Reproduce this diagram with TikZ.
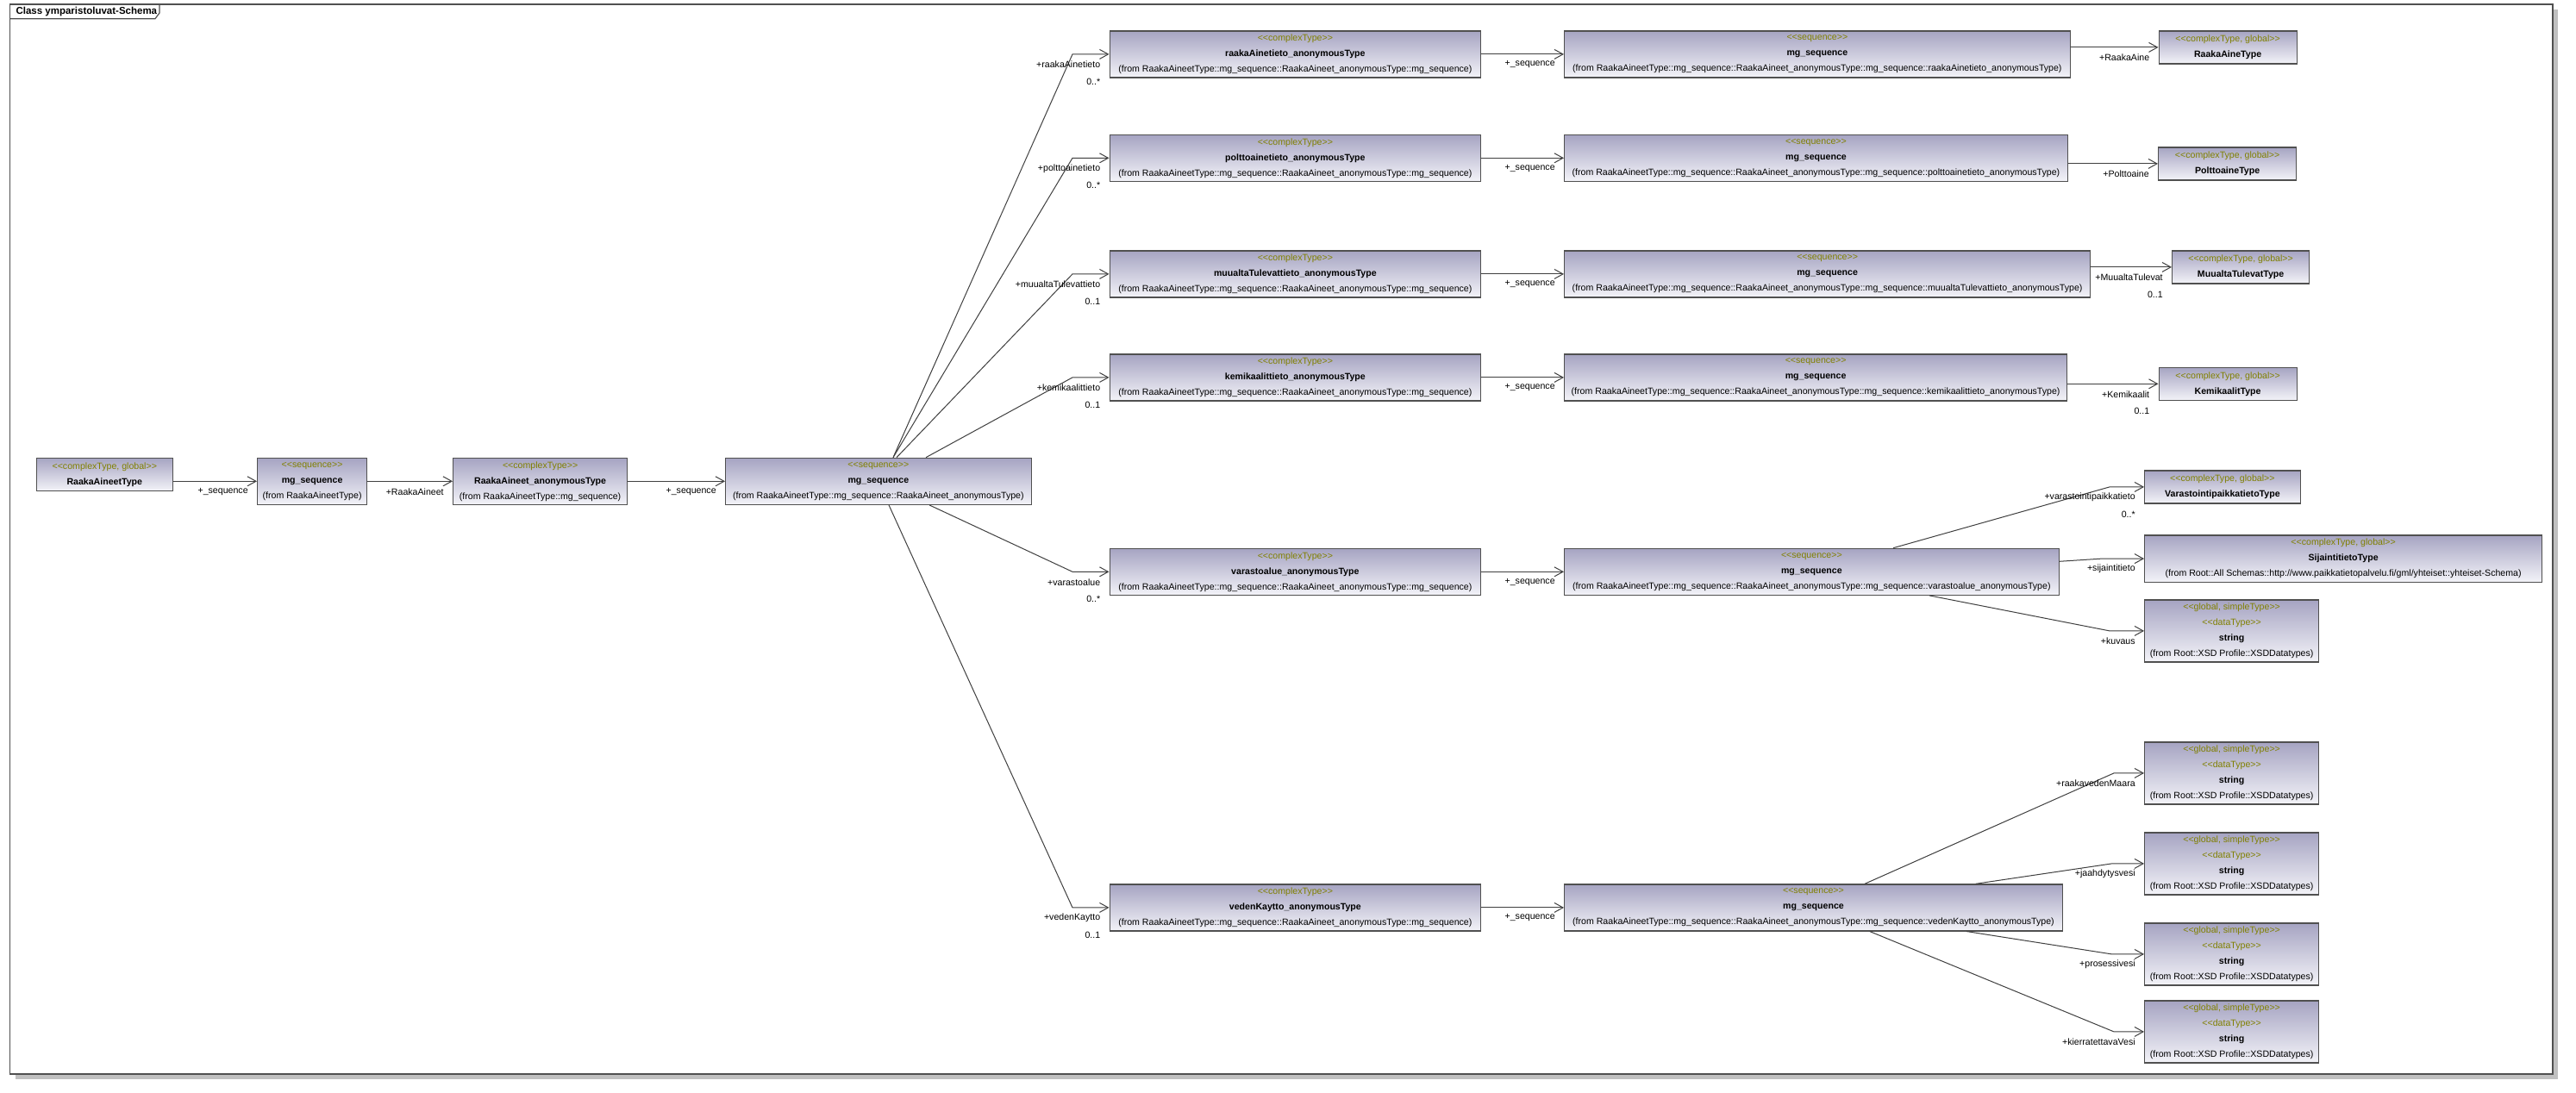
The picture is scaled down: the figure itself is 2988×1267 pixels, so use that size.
\documentclass[tikz,border=0pt]{standalone}
\usepackage{fontspec}
\setmainfont{Liberation Sans}
\usetikzlibrary{arrows.meta}

\definecolor{boxtop}{RGB}{166,164,194}
\definecolor{boxbot}{RGB}{243,243,248}
\definecolor{boxline}{RGB}{80,80,80}
\definecolor{stereo}{RGB}{128,128,0}
\definecolor{wire}{RGB}{64,64,64}
\definecolor{shadowgray}{RGB}{192,192,192}

\newcommand{\stp}[1]{\textcolor{stereo}{<\kern0pt<#1>\kern0pt>}}

\begin{document}
\begin{tikzpicture}[
      x=1pt, y=-1pt,
      every node/.style={font=\fontsize{10.6}{18}\selectfont},
      typebox/.style={draw=boxline, line width=1.2pt, top color=boxtop, bottom color=boxbot,
        anchor=north west, inner sep=0pt, align=center},
      assoc/.style={draw=wire, line width=1pt, -{Straight Barb[length=10pt,width=11pt]}},
      role/.style={anchor=east, xshift=-6.5pt, yshift=-12pt},
      mult/.style={anchor=east, xshift=-6.5pt, yshift=-32pt}
    ]

    \fill[white] (0,0) rectangle (2988,1267);
    \fill[shadowgray] (17.7,11) rectangle (2967,1252);
    \filldraw[fill=white, draw=boxline, line width=1.2pt] (11.7,5) rectangle (2961,1246);
    \draw[boxline, line width=1.2pt] (11.7,21.7) -- (180,21.7) -- (185,15) -- (185,5);
    \node[anchor=west, font=\fontsize{11.5}{14}\selectfont\bfseries] (title) at (15,13.5) {Class ymparistoluvat-Schema};

    % main chain
    \node[typebox, minimum width=158pt, minimum height=38pt] (raaType) at (41.7,530.7)
      {\stp{complexType, global}\\\textbf{RaakaAineetType}};
    \node[typebox, minimum width=127pt, minimum height=54pt] (seqA) at (298,530.7)
      {\stp{sequence}\\\textbf{mg\_sequence}\\(from RaakaAineetType)};
    \node[typebox, minimum width=202pt, minimum height=54pt] (anonType) at (525,530.7)
      {\stp{complexType}\\\textbf{RaakaAineet\_anonymousType}\\(from RaakaAineetType::mg\_sequence)};
    \node[typebox, minimum width=354.5pt, minimum height=54pt] (hub) at (841,530.7)
      {\stp{sequence}\\\textbf{mg\_sequence}\\(from RaakaAineetType::mg\_sequence::RaakaAineet\_anonymousType)};

    % anonymous types
    \node[typebox, minimum width=430.5pt, minimum height=54pt] (ct1) at (1286.5,35.3)
      {\stp{complexType}\\\textbf{raakaAinetieto\_anonymousType}\\(from RaakaAineetType::mg\_sequence::RaakaAineet\_anonymousType::mg\_sequence)};
    \node[typebox, minimum width=430.5pt, minimum height=54pt] (ct2) at (1286.5,155.7)
      {\stp{complexType}\\\textbf{polttoainetieto\_anonymousType}\\(from RaakaAineetType::mg\_sequence::RaakaAineet\_anonymousType::mg\_sequence)};
    \node[typebox, minimum width=430.5pt, minimum height=54pt] (ct3) at (1286.5,290.3)
      {\stp{complexType}\\\textbf{muualtaTulevattieto\_anonymousType}\\(from RaakaAineetType::mg\_sequence::RaakaAineet\_anonymousType::mg\_sequence)};
    \node[typebox, minimum width=430.5pt, minimum height=54pt] (ct4) at (1286.5,410.3)
      {\stp{complexType}\\\textbf{kemikaalittieto\_anonymousType}\\(from RaakaAineetType::mg\_sequence::RaakaAineet\_anonymousType::mg\_sequence)};
    \node[typebox, minimum width=430.5pt, minimum height=54pt] (ct5) at (1286.5,635.7)
      {\stp{complexType}\\\textbf{varastoalue\_anonymousType}\\(from RaakaAineetType::mg\_sequence::RaakaAineet\_anonymousType::mg\_sequence)};
    \node[typebox, minimum width=430.5pt, minimum height=54pt] (ct6) at (1286.5,1025.3)
      {\stp{complexType}\\\textbf{vedenKaytto\_anonymousType}\\(from RaakaAineetType::mg\_sequence::RaakaAineet\_anonymousType::mg\_sequence)};

    % sequences
    \node[typebox, minimum width=586.5pt, minimum height=54pt] (sq1) at (1814,35.3)
      {\stp{sequence}\\\textbf{mg\_sequence}\\(from RaakaAineetType::mg\_sequence::RaakaAineet\_anonymousType::mg\_sequence::raakaAinetieto\_anonymousType)};
    \node[typebox, minimum width=583.7pt, minimum height=54pt] (sq2) at (1814,155.7)
      {\stp{sequence}\\\textbf{mg\_sequence}\\(from RaakaAineetType::mg\_sequence::RaakaAineet\_anonymousType::mg\_sequence::polttoainetieto\_anonymousType)};
    \node[typebox, minimum width=610pt, minimum height=54pt] (sq3) at (1814,290.3)
      {\stp{sequence}\\\textbf{mg\_sequence}\\(from RaakaAineetType::mg\_sequence::RaakaAineet\_anonymousType::mg\_sequence::muualtaTulevattieto\_anonymousType)};
    \node[typebox, minimum width=583pt, minimum height=54pt] (sq4) at (1814,410.3)
      {\stp{sequence}\\\textbf{mg\_sequence}\\(from RaakaAineetType::mg\_sequence::RaakaAineet\_anonymousType::mg\_sequence::kemikaalittieto\_anonymousType)};
    \node[typebox, minimum width=573.5pt, minimum height=54pt] (sq5) at (1814,635.7)
      {\stp{sequence}\\\textbf{mg\_sequence}\\(from RaakaAineetType::mg\_sequence::RaakaAineet\_anonymousType::mg\_sequence::varastoalue\_anonymousType)};
    \node[typebox, minimum width=577.7pt, minimum height=54pt] (sq6) at (1814,1025.3)
      {\stp{sequence}\\\textbf{mg\_sequence}\\(from RaakaAineetType::mg\_sequence::RaakaAineet\_anonymousType::mg\_sequence::vedenKaytto\_anonymousType)};

    % global types
    \node[typebox, minimum width=160pt, minimum height=38pt] (rat) at (2503.5,35.3)
      {\stp{complexType, global}\\\textbf{RaakaAineType}};
    \node[typebox, minimum width=160pt, minimum height=38pt] (pat) at (2503,170.3)
      {\stp{complexType, global}\\\textbf{PolttoaineType}};
    \node[typebox, minimum width=159pt, minimum height=38pt] (mtt) at (2519,290.3)
      {\stp{complexType, global}\\\textbf{MuualtaTulevatType}};
    \node[typebox, minimum width=160pt, minimum height=38pt] (kmt) at (2503.5,425.7)
      {\stp{complexType, global}\\\textbf{KemikaalitType}};
    \node[typebox, minimum width=180.6pt, minimum height=38pt] (vtt) at (2487,545.3)
      {\stp{complexType, global}\\\textbf{VarastointipaikkatietoType}};
    \node[typebox, minimum width=461pt, minimum height=54.4pt] (sjt) at (2487,620.3)
      {\stp{complexType, global}\\\textbf{SijaintitietoType}\\(from Root::All Schemas::http://www.paikkatietopalvelu.fi/gml/yhteiset::yhteiset-Schema)};
    \node[typebox, minimum width=202pt, minimum height=72pt] (strK) at (2487,695.3)
      {\stp{global, simpleType}\\\stp{dataType}\\\textbf{string}\\(from Root::XSD Profile::XSDDatatypes)};
    \node[typebox, minimum width=202pt, minimum height=72pt] (str1) at (2487,860.3)
      {\stp{global, simpleType}\\\stp{dataType}\\\textbf{string}\\(from Root::XSD Profile::XSDDatatypes)};
    \node[typebox, minimum width=202pt, minimum height=72pt] (str2) at (2487,965.3)
      {\stp{global, simpleType}\\\stp{dataType}\\\textbf{string}\\(from Root::XSD Profile::XSDDatatypes)};
    \node[typebox, minimum width=202pt, minimum height=72pt] (str3) at (2487,1070.3)
      {\stp{global, simpleType}\\\stp{dataType}\\\textbf{string}\\(from Root::XSD Profile::XSDDatatypes)};
    \node[typebox, minimum width=202pt, minimum height=72pt] (str4) at (2487,1160.3)
      {\stp{global, simpleType}\\\stp{dataType}\\\textbf{string}\\(from Root::XSD Profile::XSDDatatypes)};

    % associations
    \draw[assoc] (raaType.east |- seqA.west) -- (seqA.west) node[role] {+\_sequence};
    \draw[assoc] (seqA.east) -- (anonType.west) node[role] {+RaakaAineet};
    \draw[assoc] (anonType.east) -- (hub.west) node[role] {+\_sequence};

    \draw[assoc] ([xshift=195pt]hub.north west) -- ([xshift=-42.5pt]ct1.west) -- (ct1.west)
      node[role] {+raakaAinetieto} node[mult] {0..*};
    \draw[assoc] ([xshift=195pt]hub.north west) -- ([xshift=-42.5pt]ct2.west) -- (ct2.west)
      node[role] {+polttoainetieto} node[mult] {0..*};
    \draw[assoc] ([xshift=199pt]hub.north west) -- ([xshift=-42.5pt]ct3.west) -- (ct3.west)
      node[role] {+muualtaTulevattieto} node[mult] {0..1};
    \draw[assoc] ([xshift=233pt]hub.north west) -- ([xshift=-42.5pt]ct4.west) -- (ct4.west)
      node[role] {+kemikaalittieto} node[mult] {0..1};
    \draw[assoc] ([xshift=237pt]hub.south west) -- ([xshift=-42.5pt]ct5.west) -- (ct5.west)
      node[role] {+varastoalue} node[mult] {0..*};
    \draw[assoc] ([xshift=190pt]hub.south west) -- ([xshift=-42.5pt]ct6.west) -- (ct6.west)
      node[role] {+vedenKaytto} node[mult] {0..1};

    \draw[assoc] (ct1.east) -- (sq1.west) node[role] {+\_sequence};
    \draw[assoc] (ct2.east) -- (sq2.west) node[role] {+\_sequence};
    \draw[assoc] (ct3.east) -- (sq3.west) node[role] {+\_sequence};
    \draw[assoc] (ct4.east) -- (sq4.west) node[role] {+\_sequence};
    \draw[assoc] (ct5.east) -- (sq5.west) node[role] {+\_sequence};
    \draw[assoc] (ct6.east) -- (sq6.west) node[role] {+\_sequence};

    \draw[assoc] (sq1.east |- rat.west) -- (rat.west) node[role] {+RaakaAine};
    \draw[assoc] (sq2.east |- pat.west) -- (pat.west) node[role] {+Polttoaine};
    \draw[assoc] (sq3.east |- mtt.west) -- (mtt.west) node[role] {+MuualtaTulevat} node[mult] {0..1};
    \draw[assoc] (sq4.east |- kmt.west) -- (kmt.west) node[role] {+Kemikaalit} node[mult] {0..1};

    \draw[assoc] ([xshift=382pt]sq5.north west) -- ([xshift=-40pt]vtt.west) -- (vtt.west)
      node[role] {+varastointipaikkatieto} node[mult] {0..*};
    \draw[assoc] ([yshift=12pt]sq5.east) -- ([xshift=-49pt]sjt.west) -- (sjt.west)
      node[role] {+sijaintitieto};
    \draw[assoc] ([xshift=424pt]sq5.south west) -- ([xshift=-40pt]strK.west) -- (strK.west)
      node[role] {+kuvaus};

    \draw[assoc] ([xshift=349pt]sq6.north west) -- ([xshift=-35pt]str1.west) -- (str1.west)
      node[role] {+raakavedenMaara};
    \draw[assoc] ([xshift=477.7pt]sq6.north west) -- ([xshift=-37.5pt]str2.west) -- (str2.west)
      node[role] {+jaahdytysvesi};
    \draw[assoc] ([xshift=467pt]sq6.south west) -- ([xshift=-37.5pt]str3.west) -- (str3.west)
      node[role] {+prosessivesi};
    \draw[assoc] ([xshift=354.7pt]sq6.south west) -- ([xshift=-35pt]str4.west) -- (str4.west)
      node[role] {+kierratettavaVesi};

    \useasboundingbox (0,0) rectangle (2988,1267);
    \end{tikzpicture}
\end{document}
